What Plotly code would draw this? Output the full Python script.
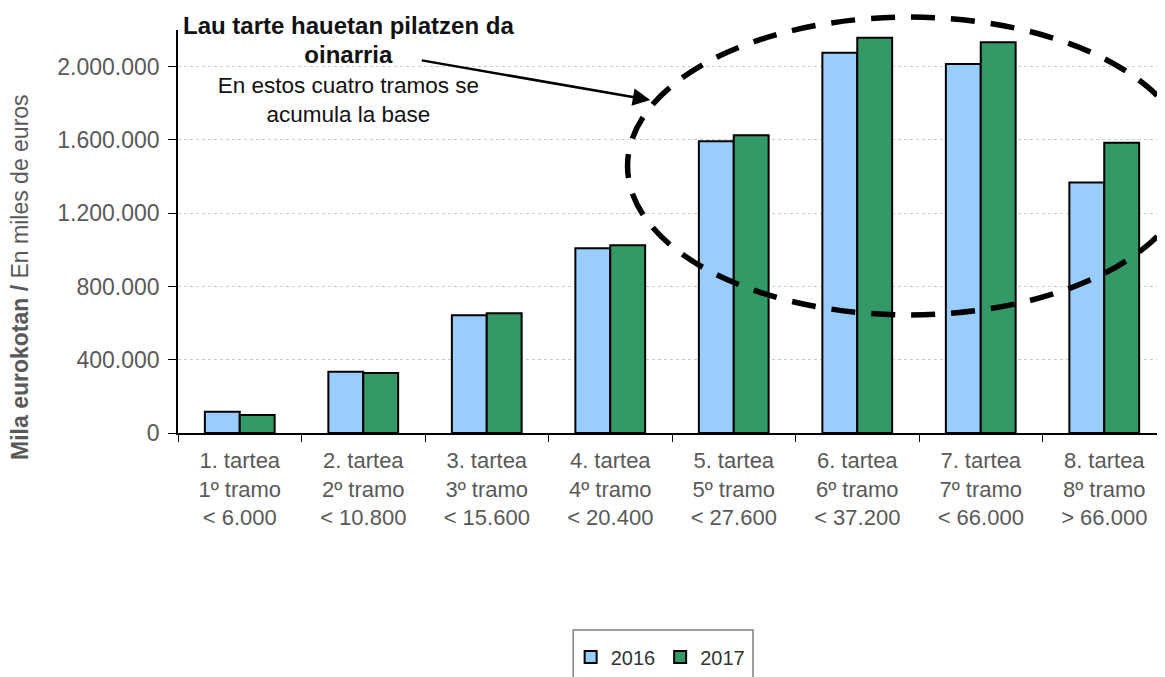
import plotly.graph_objects as go

# tramos de la base liquidable
categories = [
    "1. tartea<br>1º tramo<br>&lt; 6.000",
    "2. tartea<br>2º tramo<br>&lt; 10.800",
    "3. tartea<br>3º tramo<br>&lt; 15.600",
    "4. tartea<br>4º tramo<br>&lt; 20.400",
    "5. tartea<br>5º tramo<br>&lt; 27.600",
    "6. tartea<br>6º tramo<br>&lt; 37.200",
    "7. tartea<br>7º tramo<br>&lt; 66.000",
    "8. tartea<br>8º tramo<br>&gt; 66.000",
]
# mila eurokotan
values_2016 = [116000, 334000, 643000, 1008000, 1593000, 2076000, 2015000, 1368000]
values_2017 = [98000, 327000, 654000, 1025000, 1626000, 2158000, 2133000, 1584000]
y_ticks = [0, 400000, 800000, 1200000, 1600000, 2000000]

FONT = "Liberation Sans, Arial, sans-serif"
GREY = "#595959"

fig = go.Figure()
fig.add_trace(go.Bar(name="2016", x=categories, y=values_2016,
                     marker=dict(color="#99CCFF", line=dict(color="black", width=2))))
fig.add_trace(go.Bar(name="2017", x=categories, y=values_2017,
                     marker=dict(color="#339966", line=dict(color="black", width=2))))

# the page body has an 8px margin, hence the odd-looking margins
fig.update_layout(
    width=1165, height=677,
    margin=dict(l=170, r=7, t=22, b=252),
    plot_bgcolor="white", paper_bgcolor="white",
    font=dict(family=FONT, color=GREY),
    separators=",.",
    barmode="group", bargap=0.435, bargroupgap=0,
    showlegend=True,
    legend=dict(orientation="h", x=0.488, xanchor="center", y=-0.556, yanchor="middle",
                font=dict(size=20, color="#333333"), bgcolor="rgba(0,0,0,0)",
                itemwidth=30, tracegroupgap=0),
)
fig.update_xaxes(showline=True, linecolor="black", linewidth=1.5, ticks="outside",
                 tickson="boundaries", ticklen=7, tickcolor="black", ticklabelstandoff=7,
                 tickfont=dict(size=22, color=GREY), showgrid=False)
fig.update_yaxes(range=[0, 2200000], tickvals=y_ticks, tickformat=",.0f",
                 showline=True, linecolor="black", linewidth=1.5, ticks="outside",
                 ticklen=8, tickcolor="black", ticklabelstandoff=4,
                 tickfont=dict(size=23, color=GREY),
                 showgrid=True, gridcolor="#cccccc", griddash="dot", gridwidth=1,
                 zeroline=False)

# y axis title
fig.add_annotation(xref="paper", yref="paper", x=-0.160, y=0.387, xanchor="center",
                   yanchor="middle", textangle=-90,
                   text="<b>Mila eurokotan /</b> En miles de euros", showarrow=False,
                   font=dict(size=23, color=GREY))

# note
fig.add_annotation(xref="paper", yref="paper", x=0.173, y=0.902, xanchor="center",
                   yanchor="middle",
                   text="<b><span style='font-size:24px'>Lau tarte hauetan pilatzen da<br>"
                        "oinarria</span></b><br>"
                        "En estos cuatro tramos se<br>acumula la base",
                   showarrow=False, align="center", font=dict(size=22.5, color="#111111"))

# arrow
fig.add_annotation(xref="paper", yref="paper", x=0.478, y=0.826, ax=-230, ay=-40,
                   text="", showarrow=True, arrowhead=2, arrowsize=1.4, arrowwidth=2.5,
                   arrowcolor="black")

# dashed ellipse
fig.add_shape(type="circle", xref="paper", yref="paper",
              x0=0.455, x1=1.025, y0=0.293, y1=1.032,
              line=dict(color="black", width=5.5, dash="24px,16px"))

# legend box
fig.add_shape(type="rect", xref="paper", yref="paper",
              x0=0.400, x1=0.582, y0=-0.489, y1=-0.70,
              line=dict(color="#7f7f7f", width=1.5))

fig.write_html("out.html")
